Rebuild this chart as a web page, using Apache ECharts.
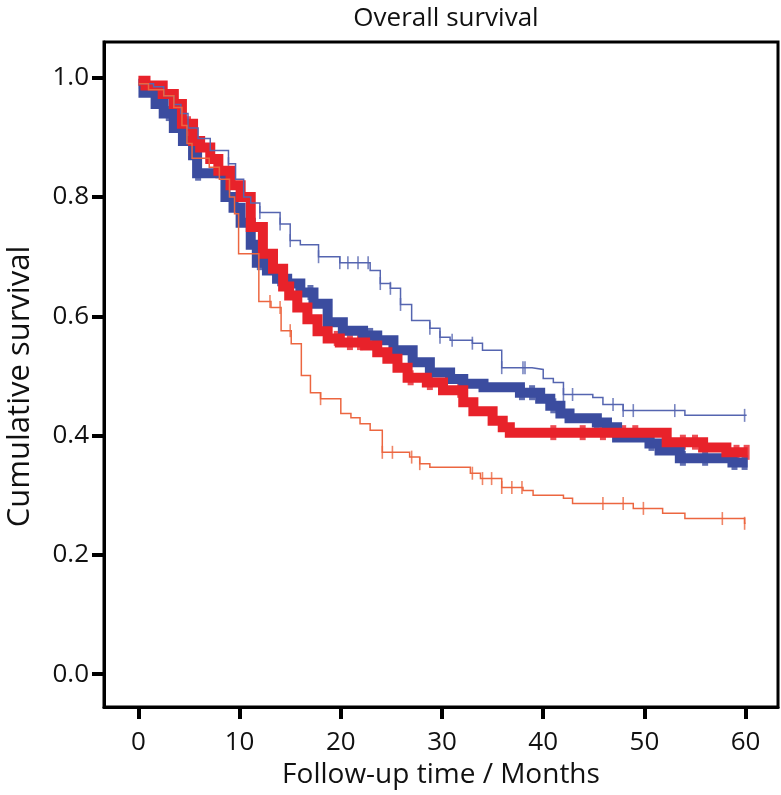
<!DOCTYPE html>
<html>
<head>
    <meta charset="utf-8">
    <title>Overall survival</title>
    <script type="text/javascript" src="https://cdn.jsdelivr.net/npm/echarts@6/dist/echarts.min.js"></script>
    <style>
        body { margin: 0; background: #fff; }
    </style>
</head>
<body>
<div id="chartmain" style="width:781px; height:795px;"></div>

<script type="text/javascript">
    // tick labels
    var xTicks = [0, 10, 20, 30, 40, 50, 60];
    var yTicks = [0, 0.2, 0.4, 0.6, 0.8, 1.0];

    // Kaplan-Meier steps: [month, survival after the drop]
    var blueThick = [[0,0.99],[0.5,0.975],[1.7,0.956],[2.5,0.94],[3.5,0.916],[4.4,0.894],[5.4,0.87],[5.8,0.84],[8.6,0.80],[9.4,0.782],
        [10.1,0.757],[11.1,0.72],[11.7,0.69],[12.7,0.677],[13.7,0.663],[14.7,0.655],[16.0,0.64],[17.3,0.621],[18.7,0.59],[20.2,0.576],
        [22.2,0.568],[23.6,0.56],[25.2,0.543],[27.1,0.523],[28.8,0.506],[30.8,0.495],[32.1,0.487],[34.1,0.481],[37.7,0.472],[39.7,0.462],
        [40.7,0.45],[41.7,0.437],[42.6,0.429],[45.3,0.422],[46.3,0.414],[47.3,0.397],[50.5,0.387],[51.5,0.375],[53.5,0.362],[58.7,0.355],[60.2,0.355]];
    var redThick = [[0,0.995],[0.7,0.987],[2.4,0.973],[3.5,0.956],[4.3,0.923],[5.4,0.894],[6.1,0.883],[7.1,0.864],[7.9,0.844],[9.1,0.82],
        [10.1,0.80],[11.1,0.75],[12.3,0.705],[13.3,0.68],[14.3,0.65],[14.9,0.635],[15.7,0.615],[16.7,0.595],[17.7,0.575],[18.7,0.563],
        [19.9,0.556],[22.4,0.551],[23.6,0.54],[24.6,0.529],[25.6,0.514],[26.6,0.497],[28.5,0.489],[30.1,0.476],[32.1,0.456],[33.1,0.441],
        [35.0,0.425],[36.0,0.414],[36.7,0.405],[52.2,0.389],[55.8,0.38],[58.1,0.372],[60.2,0.372]];
    var blueThin = [[0,0.99],[1.5,0.985],[2.5,0.97],[3.5,0.955],[4.2,0.94],[4.9,0.916],[5.9,0.898],[7.1,0.878],[8.9,0.856],[9.6,0.83],
        [10.4,0.80],[11.1,0.79],[12.0,0.774],[14.0,0.755],[15.0,0.727],[16.0,0.72],[17.8,0.70],[19.9,0.69],[22.9,0.677],[23.9,0.655],
        [24.9,0.647],[25.9,0.62],[27.0,0.593],[28.8,0.58],[29.8,0.565],[30.8,0.56],[33.0,0.555],[34.0,0.543],[35.9,0.514],[38.9,0.511],
        [40.0,0.496],[41.0,0.489],[42.0,0.469],[44.9,0.464],[45.9,0.452],[47.9,0.442],[54.0,0.434],[60.1,0.434]];
    var orangeThin = [[0,0.99],[1.0,0.98],[2.5,0.97],[3.5,0.95],[4.3,0.92],[4.8,0.89],[5.3,0.865],[7.0,0.85],[8.0,0.83],[9.0,0.80],
        [9.5,0.772],[9.9,0.705],[11.9,0.625],[13.1,0.615],[14.1,0.576],[15.1,0.554],[16.1,0.501],[17.0,0.472],[18.0,0.462],[20.0,0.437],
        [21.0,0.43],[21.9,0.42],[22.9,0.409],[24.1,0.372],[26.8,0.364],[27.8,0.353],[28.8,0.347],[32.8,0.337],[33.8,0.328],[35.9,0.313],
        [38.0,0.308],[39.0,0.30],[42.0,0.295],[42.9,0.286],[48.9,0.278],[51.8,0.27],[54.0,0.261],[59.9,0.253],[60.0,0.253]];

    // censored times
    var blueThickCens = [3.0, 5.9, 12.0, 14.0, 17.0, 22.9, 37.9, 38.9, 41.0, 45.3, 50.7, 53.8, 56.0, 58.9, 59.9];
    var redThickCens = [4.9, 7.9, 19.6, 20.9, 21.9, 26.9, 28.8, 31.8, 41.0, 43.9, 45.9, 47.9, 49.1, 53.8, 55.0, 59.1, 60.1];
    var blueThinCens = [8.9, 11.1, 12.0, 14.0, 15.0, 17.8, 19.9, 20.7, 21.7, 22.7, 23.9, 24.9, 25.9, 28.8, 29.8, 31.0, 33.0,
        35.9, 38.0, 38.2, 42.0, 42.9, 46.9, 47.9, 48.9, 53.0, 59.9];
    var orangeThinCens = [11.8, 13.0, 14.0, 15.0, 18.0, 24.1, 25.1, 27.0, 27.8, 33.0, 34.0, 34.9, 35.9, 36.9, 37.9,
        45.9, 47.9, 49.9, 57.7, 59.9];

    var fontName = '"Open Sans", "DejaVu Sans", sans-serif';

    function survAt(curve, t) {
        var s = curve[0][1];
        for (var i = 0; i < curve.length; i++) {
            if (curve[i][0] <= t) s = curve[i][1];
        }
        return s;
    }

    function censPoints(curve, times) {
        return times.map(function (t) { return [t, survAt(curve, t)]; });
    }

    function stepLine(name, data, color, width) {
        return {
            name: name,
            type: 'line',
            step: 'end',
            data: data,
            showSymbol: false,
            symbol: 'none',
            silent: true,
            lineStyle: { color: color, width: width, cap: 'butt', join: 'miter' }
        };
    }

    function marks(name, data, color, size) {
        return {
            name: name,
            type: 'scatter',
            data: data,
            symbol: 'rect',
            symbolSize: size,
            silent: true,
            itemStyle: { color: color }
        };
    }

    var option = {
        animation: false,
        backgroundColor: '#fff',
        title: {
            text: 'Overall survival',
            left: 441,
            textAlign: 'center',
            top: 1,
            textStyle: { fontFamily: fontName, fontSize: 26, fontWeight: 'normal', color: '#111' }
        },
        grid: {
            left: 104, right: 3, top: 42, bottom: 88,
            containLabel: false,
            outerBoundsMode: 'none',
            show: true,
            borderColor: '#000',
            borderWidth: 3,
            backgroundColor: 'transparent'
        },
        xAxis: {
            type: 'value',
            min: -3.4,
            max: 63.2,
            splitLine: { show: false },
            axisLine: { show: true, onZero: false, lineStyle: { color: '#000', width: 3 } },
            axisTick: { show: true, customValues: xTicks, length: 12, inside: false, lineStyle: { color: '#000', width: 4 } },
            axisLabel: { customValues: xTicks, margin: 23, fontSize: 26, fontFamily: fontName, color: '#111' },
            name: 'Follow-up time / Months',
            nameLocation: 'middle',
            nameGap: 52,
            nameTextStyle: { fontFamily: fontName, fontSize: 28, color: '#111' }
        },
        yAxis: {
            type: 'value',
            min: -0.055,
            max: 1.06,
            splitLine: { show: false },
            axisLine: { show: true, onZero: false, lineStyle: { color: '#000', width: 3 } },
            axisTick: { show: true, customValues: yTicks, length: 12, inside: false, lineStyle: { color: '#000', width: 4 } },
            axisLabel: {
                customValues: yTicks, margin: 15, fontSize: 26, fontFamily: fontName, color: '#111',
                formatter: function (v) { return v.toFixed(1); }
            },
            name: 'Cumulative survival',
            nameLocation: 'middle',
            nameGap: 68,
            nameTextStyle: { fontFamily: fontName, fontSize: 31, color: '#111', padding: [0, 24, 0, 0] }
        },
        series: [
            stepLine('blueThick', blueThick, '#3b4c9f', 10),
            marks('blueThickCens', censPoints(blueThick, blueThickCens), '#3b4c9f', [6, 15]),
            stepLine('redThick', redThick, '#e8222a', 10),
            marks('redThickCens', censPoints(redThick, redThickCens), '#e8222a', [6, 15]),
            stepLine('blueThin', blueThin, '#5565b0', 1.5),
            marks('blueThinCens', censPoints(blueThin, blueThinCens), '#5565b0', [1.6, 13]),
            stepLine('orangeThin', orangeThin, '#ec6640', 1.5),
            marks('orangeThinCens', censPoints(orangeThin, orangeThinCens), '#ec6640', [1.6, 13])
        ]
    };

    var myChart = echarts.init(document.getElementById('chartmain'));
    myChart.setOption(option);
</script>
</body>
</html>
